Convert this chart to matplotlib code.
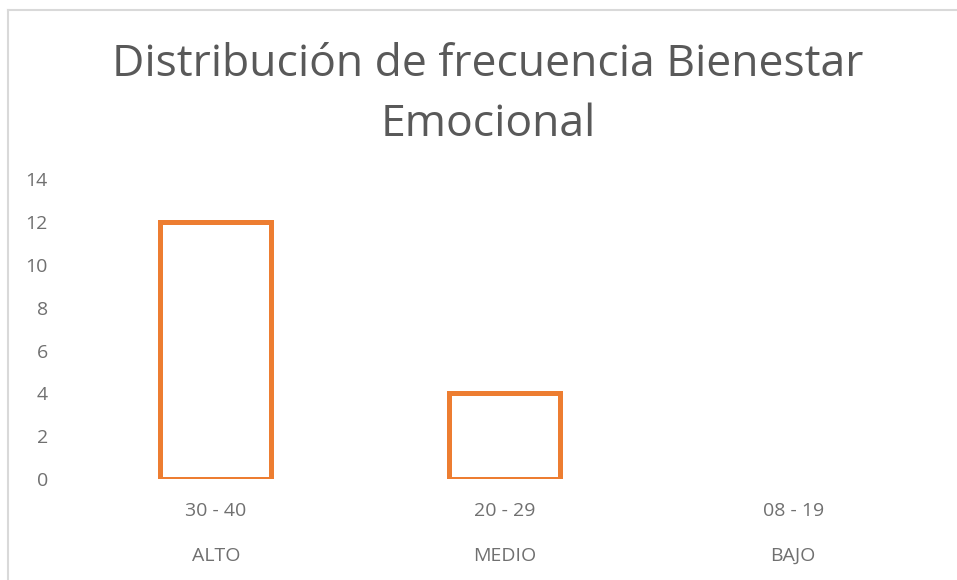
import matplotlib.pyplot as plt
from matplotlib.lines import Line2D

# Data
categories = ['30 - 40', '20 - 29', '08 - 19']
groups = ['ALTO', 'MEDIO', 'BAJO']
values = [12, 4, 0]

title = 'Distribución de frecuencia Bienestar\nEmocional'
title_color = '#595959'
text_color = '#707070'
bar_color = '#ED7D31'

plt.rcParams['font.family'] = ['Open Sans', 'DejaVu Sans']

fig = plt.figure(figsize=(9.57, 5.80), dpi=100)
ax = fig.add_axes([0.0747, 0.174, 0.905, 0.517])

x = list(range(len(categories)))
bars = ax.bar(x, values, width=0.385, facecolor='white', edgecolor=bar_color, linewidth=3.6)
# zero-height bars are not drawn in the original
for b, v in zip(bars, values):
    if v == 0:
        b.set_visible(False)

ax.set_xlim(-0.5, len(categories) - 0.5)
ax.set_ylim(0, 14)
ax.set_yticks(range(0, 15, 2))
ax.tick_params(axis='y', length=0, labelsize=14, labelcolor=text_color, pad=17)
ax.set_xticks([])
for s in ax.spines.values():
    s.set_visible(False)

# two-level category labels
for i in x:
    ax.text(i, -0.107, categories[i], transform=ax.get_xaxis_transform(),
            ha='center', va='center', fontsize=14, color=text_color)
    ax.text(i, -0.257, groups[i], transform=ax.get_xaxis_transform(),
            ha='center', va='center', fontsize=14, color=text_color)

fig.text(0.51, 0.837, title, ha='center', va='center', fontsize=32,
         color=title_color, linespacing=1.45)

# chart frame (top and left edges visible in the crop)
fig.add_artist(Line2D([8 / 957, 8 / 957], [0, 1 - 10 / 580], transform=fig.transFigure,
                      color='#D9D9D9', linewidth=1.5))
fig.add_artist(Line2D([8 / 957, 1], [1 - 10 / 580, 1 - 10 / 580], transform=fig.transFigure,
                      color='#D9D9D9', linewidth=1.5))

fig.savefig('out.png', dpi=100)
